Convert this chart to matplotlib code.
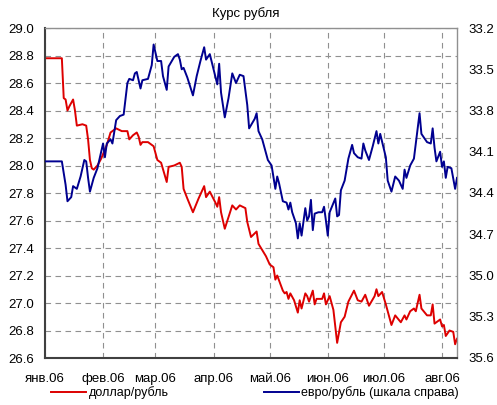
import matplotlib
matplotlib.use('Agg')
import matplotlib.pyplot as plt
import numpy as np

plt.rcParams['font.family'] = ['Liberation Sans', 'DejaVu Sans']

# days counted from 1 Jan 2006
usd_days = [0, 9, 10, 11, 12, 13, 15, 16, 17, 20, 22, 23, 24, 25, 26, 28, 30, 33, 35, 38,
            41, 44, 45, 47, 49, 50, 51, 52, 55, 58, 59, 60, 62, 65, 66, 69, 72, 73, 74, 76,
            79, 82, 85, 86, 88, 91, 92, 93, 94, 96, 100, 102, 104, 107, 108, 110, 113, 114,
            118, 120, 122, 123, 124, 127, 128, 129, 130, 131, 133, 135, 136, 137, 139, 140,
            141, 143, 144, 145, 148, 149, 150, 152, 154, 156, 158, 160, 162, 165, 167, 169,
            171, 173, 176, 177, 178, 180, 182, 185, 187, 190, 192, 193, 195, 197, 198, 200,
            201, 204, 206, 207, 208, 211, 212, 213, 214, 216, 218, 219, 220]
usd_rate = [28.78, 28.78, 28.49, 28.48, 28.40, 28.43, 28.48, 28.40, 28.29, 28.30, 28.29,
            28.19, 28.04, 27.98, 27.97, 28.00, 28.05, 28.15, 28.24, 28.27, 28.25, 28.25,
            28.19, 28.22, 28.24, 28.21, 28.15, 28.17, 28.17, 28.14, 28.09, 28.04, 28.02,
            27.88, 27.99, 28.00, 28.02, 27.99, 27.83, 27.76, 27.66, 27.76, 27.85, 27.77,
            27.81, 27.73, 27.70, 27.77, 27.66, 27.54, 27.71, 27.68, 27.71, 27.69, 27.59,
            27.48, 27.52, 27.43, 27.34, 27.28, 27.26, 27.17, 27.20, 27.09, 27.07, 27.08,
            27.03, 27.07, 27.02, 26.93, 27.02, 26.96, 27.07, 27.05, 27.01, 27.09, 26.99,
            27.03, 27.03, 27.07, 26.99, 27.05, 26.95, 26.71, 26.86, 26.90, 27.01, 27.09,
            27.02, 27.01, 27.06, 26.98, 27.05, 27.10, 27.05, 27.08, 26.99, 26.84, 26.91,
            26.86, 26.91, 26.88, 26.94, 26.96, 26.94, 27.06, 26.96, 26.91, 26.91, 26.99,
            26.85, 26.88, 26.83, 26.84, 26.76, 26.80, 26.79, 26.70, 26.74]

eur_days = [0, 9, 11, 12, 14, 15, 17, 19, 21, 22, 23, 24, 26, 28, 31, 32, 33, 35, 36, 38,
            40, 42, 44, 45, 47, 48, 49, 51, 52, 55, 57, 58, 60, 62, 63, 65, 66, 69, 71, 72,
            73, 74, 76, 79, 81, 83, 85, 86, 88, 90, 92, 93, 94, 96, 98, 100, 102, 104, 106,
            108, 109, 112, 113, 114, 116, 119, 121, 123, 124, 125, 127, 129, 130, 131, 132,
            134, 135, 136, 137, 139, 140, 141, 142, 143, 144, 146, 148, 149, 150, 151, 152,
            155, 156, 157, 158, 160, 162, 164, 165, 167, 169, 170, 171, 173, 175, 177, 178,
            179, 182, 183, 185, 187, 189, 191, 192, 193, 195, 197, 198, 200, 201, 203, 204,
            206, 207, 208, 209, 211, 212, 213, 214, 215, 217, 219, 220]
eur_rate = [34.17, 34.17, 34.34, 34.46, 34.43, 34.35, 34.37, 34.28, 34.16, 34.17, 34.29,
            34.39, 34.29, 34.22, 34.04, 34.14, 34.04, 34.01, 34.04, 33.87, 33.84, 33.83,
            33.60, 33.57, 33.58, 33.53, 33.52, 33.64, 33.58, 33.57, 33.47, 33.32, 33.44,
            33.44, 33.55, 33.65, 33.48, 33.41, 33.39, 33.43, 33.50, 33.49, 33.56, 33.69,
            33.55, 33.44, 33.34, 33.43, 33.39, 33.50, 33.61, 33.46, 33.67, 33.85, 33.71,
            33.53, 33.60, 33.54, 33.55, 33.76, 33.93, 33.86, 33.82, 33.95, 34.01, 34.16,
            34.20, 34.37, 34.28, 34.33, 34.46, 34.47, 34.52, 34.47, 34.54, 34.62, 34.73,
            34.62, 34.71, 34.51, 34.60, 34.57, 34.45, 34.67, 34.55, 34.54, 34.54, 34.50,
            34.60, 34.71, 34.54, 34.44, 34.57, 34.56, 34.38, 34.31, 34.15, 34.05, 34.11,
            34.14, 34.15, 34.04, 34.09, 34.16, 34.06, 33.95, 34.04, 33.97, 34.14, 34.31,
            34.39, 34.28, 34.31, 34.37, 34.23, 34.29, 34.20, 34.15, 34.04, 33.82, 33.97,
            34.01, 34.03, 34.04, 33.93, 34.07, 34.17, 34.10, 34.21, 34.17, 34.29, 34.21,
            34.22, 34.37, 34.29]

month_starts = ['2006-01-01', '2006-02-01', '2006-03-01', '2006-04-01',
                '2006-05-01', '2006-06-01', '2006-07-01', '2006-08-01']
month_labels = ['янв.06', 'фев.06', 'мар.06', 'апр.06', 'май.06', 'июн.06', 'июл.06', 'авг.06']

start = np.datetime64('2006-01-01')
usd_dates = start + np.array(usd_days)
eur_dates = start + np.array(eur_days)

fs = 9.5

fig = plt.figure(figsize=(4.97, 4.05), dpi=100)
ax = fig.add_axes([45 / 497, 47 / 405, 412 / 497, 330 / 405])

ax.plot(usd_dates, usd_rate, color='#dd0000', lw=1.4)
ax.set_xlim(start, start + 220)
ax.set_ylim(26.6, 29.0)
ax.set_yticks(np.arange(26.6, 29.01, 0.2))
ax.yaxis.set_major_formatter('{x:.1f}')
ax.set_xticks(np.array(month_starts, dtype='datetime64[D]'))
ax.set_xticklabels(month_labels)
ax.tick_params(axis='y', length=0, pad=8, labelsize=fs)
ax.tick_params(axis='x', length=0, pad=11, labelsize=fs)
ax.grid(True, color='#909090', linestyle=(0, (5, 4)), lw=0.8)

for s in ['left', 'bottom']:
    ax.spines[s].set_color('#404040')
    ax.spines[s].set_linewidth(1.5)
for s in ['top', 'right']:
    ax.spines[s].set_color('#909090')
    ax.spines[s].set_linewidth(1.0)

ax2 = ax.twinx()
ax2.plot(eur_dates, eur_rate, color='#000090', lw=1.4)
ax2.set_ylim(35.6, 33.2)
ax2.set_yticks(np.arange(33.2, 35.61, 0.3))
ax2.yaxis.set_major_formatter('{x:.1f}')
ax2.tick_params(axis='y', length=0, pad=8, labelsize=fs)
for s in ax2.spines.values():
    s.set_visible(False)

fig.text(246 / 497, 1 - 14 / 405, 'Курс рубля', ha='center', va='center', fontsize=fs)

h1, = ax.plot([], [], color='#dd0000', lw=1.4)
h2, = ax.plot([], [], color='#000090', lw=1.4)
fig.legend([h1, h2], ['доллар/рубль', 'евро/рубль (шкала справа)'],
           loc='center', bbox_to_anchor=(255 / 497, 1 - 393 / 405), ncol=2,
           frameon=False, fontsize=9, handlelength=2.8, handletextpad=0.2,
           columnspacing=7.6, borderpad=0)

fig.savefig('out.png', dpi=100)
